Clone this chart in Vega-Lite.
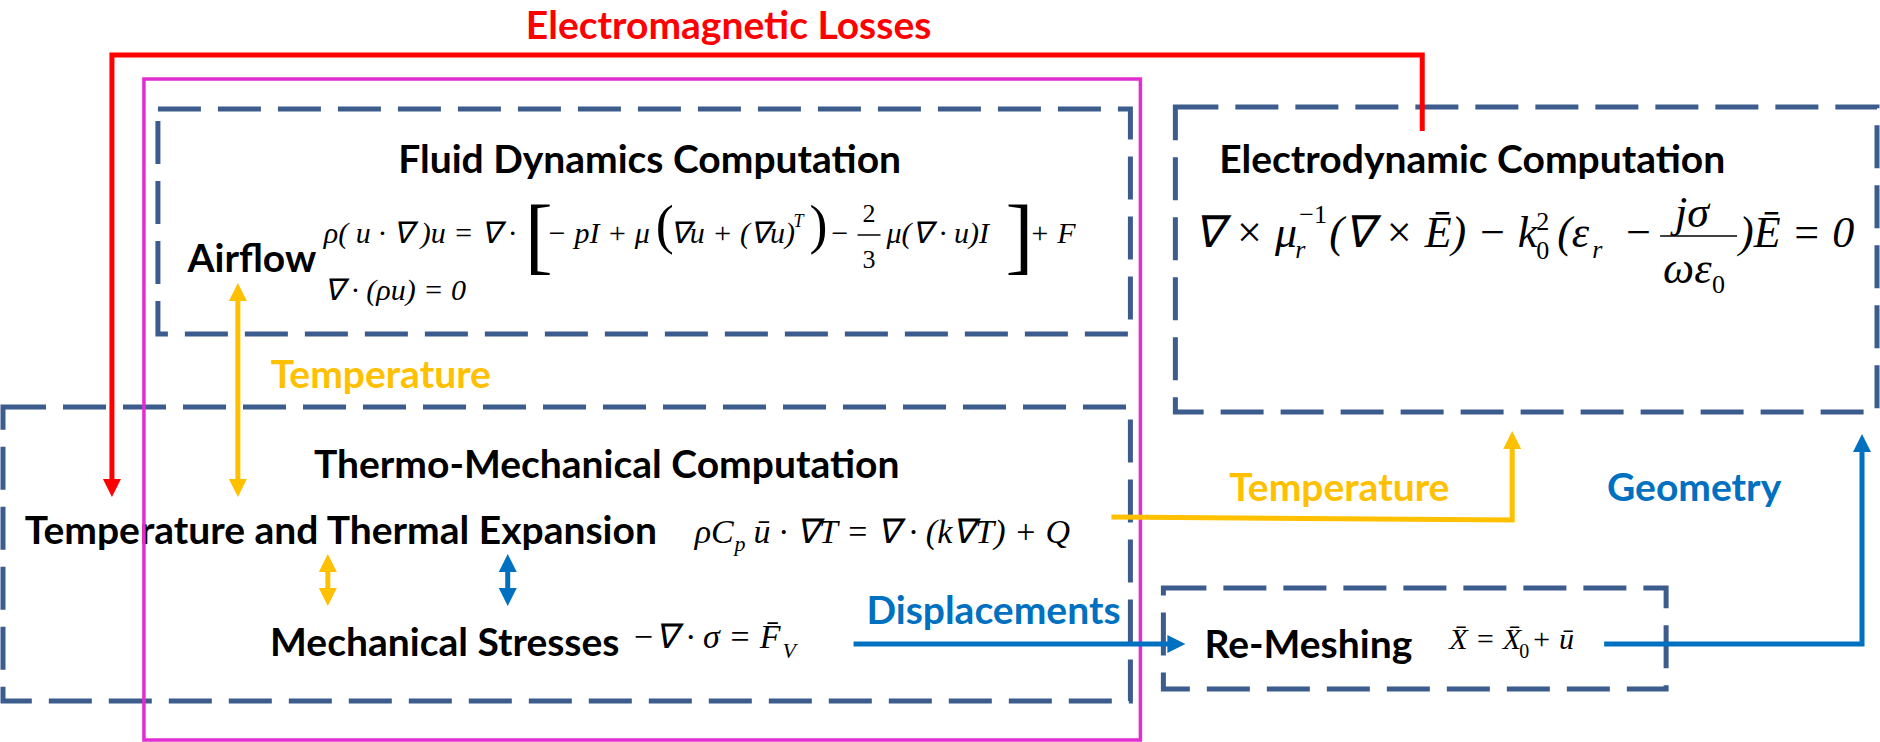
{
  "$schema": "https://vega.github.io/schema/vega-lite/v6.json",
  "width": 1880,
  "height": 742,
  "padding": 0,
  "autosize": {"type": "fit", "contains": "padding"},
  "background": "white",
  "config": {"view": {"stroke": null}},
  "datasets": {
    "boxes": [
      {"name": "Fluid", "x1": 158, "x2": 1131, "y1": 109, "y2": 334},
      {"name": "Thermo", "x1": 3, "x2": 1131, "y1": 407, "y2": 701},
      {"name": "Electro", "x1": 1176, "x2": 1878, "y1": 107, "y2": 412},
      {"name": "Remesh", "x1": 1164, "x2": 1667, "y1": 588, "y2": 689}
    ],
    "frame": [
      {"name": "Coupled", "x1": 144, "x2": 1141, "y1": 79, "y2": 740}
    ],
    "paths": [
      {"seg": "em", "ord": 1, "x": 112, "y": 488, "grp": "red"},
      {"seg": "em", "ord": 2, "x": 112, "y": 55, "grp": "red"},
      {"seg": "em", "ord": 3, "x": 1423, "y": 55, "grp": "red"},
      {"seg": "em", "ord": 4, "x": 1423, "y": 131, "grp": "red"},
      {"seg": "ty", "ord": 1, "x": 238, "y": 292, "grp": "yellow"},
      {"seg": "ty", "ord": 2, "x": 238, "y": 488, "grp": "yellow"},
      {"seg": "sy", "ord": 1, "x": 328, "y": 563, "grp": "yellow"},
      {"seg": "sy", "ord": 2, "x": 328, "y": 597, "grp": "yellow"},
      {"seg": "sb", "ord": 1, "x": 508, "y": 563, "grp": "blue"},
      {"seg": "sb", "ord": 2, "x": 508, "y": 597, "grp": "blue"},
      {"seg": "tt", "ord": 1, "x": 1112, "y": 517, "grp": "yellow"},
      {"seg": "tt", "ord": 2, "x": 1513, "y": 520, "grp": "yellow"},
      {"seg": "tt", "ord": 3, "x": 1513, "y": 442, "grp": "yellow"},
      {"seg": "dp", "ord": 1, "x": 854, "y": 644, "grp": "blue"},
      {"seg": "dp", "ord": 2, "x": 1170, "y": 644, "grp": "blue"},
      {"seg": "ge", "ord": 1, "x": 1605, "y": 644, "grp": "blue"},
      {"seg": "ge", "ord": 2, "x": 1863, "y": 644, "grp": "blue"},
      {"seg": "ge", "ord": 3, "x": 1863, "y": 445, "grp": "blue"}
    ],
    "heads": [
      {"x": 112, "y": 488, "dir": "down", "grp": "red"},
      {"x": 238, "y": 292, "dir": "up", "grp": "yellow"},
      {"x": 238, "y": 488, "dir": "down", "grp": "yellow"},
      {"x": 328, "y": 563, "dir": "up", "grp": "yellow"},
      {"x": 328, "y": 597, "dir": "down", "grp": "yellow"},
      {"x": 508, "y": 563, "dir": "up", "grp": "blue"},
      {"x": 508, "y": 597, "dir": "down", "grp": "blue"},
      {"x": 1513, "y": 440, "dir": "up", "grp": "yellow"},
      {"x": 1863, "y": 443, "dir": "up", "grp": "blue"},
      {"x": 1177, "y": 644, "dir": "right", "grp": "blue"}
    ],
    "bars": [
      {"x1": 858, "x2": 881, "y": 235},
      {"x1": 1661, "x2": 1738, "y": 236}
    ],
    "labels": [
      {"x": 729, "y": 39, "t": "Electromagnetic Losses", "grp": "red"},
      {"x": 650, "y": 173, "t": "Fluid Dynamics Computation", "grp": "black"},
      {"x": 252, "y": 272, "t": "Airflow", "grp": "black"},
      {"x": 1473, "y": 173, "t": "Electrodynamic Computation", "grp": "black"},
      {"x": 381, "y": 388, "t": "Temperature", "grp": "yellow"},
      {"x": 607, "y": 478, "t": "Thermo-Mechanical Computation", "grp": "black"},
      {"x": 341, "y": 544, "t": "Temperature and Thermal Expansion", "grp": "black"},
      {"x": 445, "y": 656, "t": "Mechanical Stresses", "grp": "black"},
      {"x": 994, "y": 624, "t": "Displacements", "grp": "blue"},
      {"x": 1340, "y": 501, "t": "Temperature", "grp": "yellow"},
      {"x": 1695, "y": 501, "t": "Geometry", "grp": "blue"},
      {"x": 1309, "y": 658, "t": "Re-Meshing", "grp": "black"}
    ],
    "math": [
      {"x": 324, "y": 243, "t": "ρ( u · ∇ )u = ∇ ·", "role": "f"},
      {"x": 525, "y": 264, "t": "[", "role": "fb"},
      {"x": 547, "y": 243, "t": "− pI + μ", "role": "f"},
      {"x": 656, "y": 243, "t": "(", "role": "fp"},
      {"x": 670, "y": 243, "t": "∇u + (∇u)", "role": "f"},
      {"x": 794, "y": 227, "t": "T", "role": "fs"},
      {"x": 810, "y": 243, "t": ")", "role": "fp"},
      {"x": 830, "y": 243, "t": "−", "role": "f"},
      {"x": 863, "y": 222, "t": "2", "role": "fn"},
      {"x": 863, "y": 268, "t": "3", "role": "fn"},
      {"x": 887, "y": 243, "t": "μ(∇ · u)I", "role": "f"},
      {"x": 1006, "y": 264, "t": "]", "role": "fb"},
      {"x": 1030, "y": 243, "t": "+ F", "role": "f"},
      {"x": 324, "y": 300, "t": "∇ · (ρu) = 0", "role": "f"},
      {"x": 1195, "y": 247, "t": "∇ × μ", "role": "e"},
      {"x": 1296, "y": 258, "t": "r", "role": "es"},
      {"x": 1300, "y": 223, "t": "−1", "role": "en"},
      {"x": 1330, "y": 247, "t": "(∇ × Ē) − k", "role": "e"},
      {"x": 1537, "y": 259, "t": "0", "role": "en"},
      {"x": 1537, "y": 230, "t": "2", "role": "en"},
      {"x": 1558, "y": 247, "t": "(ε", "role": "e"},
      {"x": 1593, "y": 258, "t": "r", "role": "es"},
      {"x": 1624, "y": 247, "t": "−", "role": "e"},
      {"x": 1676, "y": 227, "t": "jσ", "role": "e"},
      {"x": 1664, "y": 283, "t": "ωε", "role": "e"},
      {"x": 1713, "y": 293, "t": "0", "role": "en"},
      {"x": 1740, "y": 247, "t": ")Ē = 0", "role": "e"},
      {"x": 695, "y": 543, "t": "ρC", "role": "t"},
      {"x": 735, "y": 551, "t": "p", "role": "ts"},
      {"x": 754, "y": 543, "t": "ū · ∇T = ∇ · (k∇T) + Q", "role": "t"},
      {"x": 632, "y": 648, "t": "−∇ · σ = F̄", "role": "t"},
      {"x": 783, "y": 658, "t": "V", "role": "ts"},
      {"x": 1450, "y": 649, "t": "X̄ = X̄", "role": "r"},
      {"x": 1520, "y": 658, "t": "0", "role": "rn"},
      {"x": 1532, "y": 649, "t": "+ ū", "role": "r"}
    ]
  },
  "layer": [
    {
      "data": {"name": "boxes"},
      "mark": {"type": "rect", "filled": false, "stroke": "#3C5C8E", "strokeWidth": 5, "strokeDash": [43, 17]},
      "encoding": {
        "x": {"field": "x1", "type": "quantitative", "scale": {"domain": [0, 1880], "nice": false, "zero": false}, "axis": null},
        "x2": {"field": "x2"},
        "y": {"field": "y1", "type": "quantitative", "scale": {"domain": [0, 742], "nice": false, "zero": false, "reverse": true}, "axis": null},
        "y2": {"field": "y2"}
      }
    },
    {
      "data": {"name": "labels"},
      "mark": {"type": "text", "font": "Lato", "fontWeight": "bold", "fontSize": 39, "align": "center", "baseline": "alphabetic"},
      "encoding": {
        "x": {"field": "x", "type": "quantitative"},
        "y": {"field": "y", "type": "quantitative"},
        "text": {"field": "t"},
        "color": {"field": "grp", "type": "nominal", "scale": {"domain": ["red", "yellow", "blue", "black"], "range": ["#FF0000", "#FFC000", "#0070C0", "#000000"]}, "legend": null}
      }
    },
    {
      "data": {"name": "math"},
      "transform": [{"filter": {"field": "role", "oneOf": ["f", "fs", "e", "es", "t", "ts", "r"]}}],
      "mark": {"type": "text", "font": "Liberation Serif", "fontStyle": "italic", "align": "left", "baseline": "alphabetic", "color": "#000000"},
      "encoding": {
        "x": {"field": "x", "type": "quantitative"},
        "y": {"field": "y", "type": "quantitative"},
        "text": {"field": "t"},
        "size": {"field": "role", "type": "nominal", "scale": {"type": "ordinal", "domain": ["f", "fs", "fb", "fp", "fn", "e", "es", "en", "t", "ts", "r", "rn"], "range": [30, 18, 84, 54, 26, 44, 26, 26, 34, 22, 30, 20]}, "legend": null}
      }
    },
    {
      "data": {"name": "math"},
      "transform": [{"filter": {"field": "role", "oneOf": ["fb", "fp", "fn", "en", "rn"]}}],
      "mark": {"type": "text", "font": "Liberation Serif", "align": "left", "baseline": "alphabetic", "color": "#000000"},
      "encoding": {
        "x": {"field": "x", "type": "quantitative"},
        "y": {"field": "y", "type": "quantitative"},
        "text": {"field": "t"},
        "size": {"field": "role", "type": "nominal", "scale": {"type": "ordinal", "domain": ["f", "fs", "fb", "fp", "fn", "e", "es", "en", "t", "ts", "r", "rn"], "range": [30, 18, 84, 54, 26, 44, 26, 26, 34, 22, 30, 20]}, "legend": null}
      }
    },
    {
      "data": {"name": "bars"},
      "mark": {"type": "rule", "color": "#000000", "strokeWidth": 1.5},
      "encoding": {
        "x": {"field": "x1", "type": "quantitative"},
        "x2": {"field": "x2"},
        "y": {"field": "y", "type": "quantitative"}
      }
    },
    {
      "data": {"name": "frame"},
      "mark": {"type": "rect", "filled": false, "stroke": "#E22DD2", "strokeWidth": 3.5},
      "encoding": {
        "x": {"field": "x1", "type": "quantitative"},
        "x2": {"field": "x2"},
        "y": {"field": "y1", "type": "quantitative"},
        "y2": {"field": "y2"}
      }
    },
    {
      "data": {"name": "paths"},
      "mark": {"type": "line", "strokeWidth": 5, "strokeJoin": "miter", "strokeCap": "butt"},
      "encoding": {
        "x": {"field": "x", "type": "quantitative"},
        "y": {"field": "y", "type": "quantitative"},
        "detail": {"field": "seg"},
        "order": {"field": "ord", "type": "quantitative"},
        "color": {"field": "grp", "type": "nominal", "scale": {"domain": ["red", "yellow", "blue", "black"], "range": ["#FF0000", "#FFC000", "#0070C0", "#000000"]}, "legend": null}
      }
    },
    {
      "data": {"name": "heads"},
      "mark": {"type": "point", "filled": true, "size": 324, "opacity": 1, "strokeWidth": 0},
      "encoding": {
        "x": {"field": "x", "type": "quantitative"},
        "y": {"field": "y", "type": "quantitative"},
        "shape": {"field": "dir", "type": "nominal", "scale": {"domain": ["up", "down", "right"], "range": ["M0,-1L1,1L-1,1Z", "M0,1L1,-1L-1,-1Z", "M1,0L-1,-1L-1,1Z"]}, "legend": null},
        "color": {"field": "grp", "type": "nominal", "scale": {"domain": ["red", "yellow", "blue", "black"], "range": ["#FF0000", "#FFC000", "#0070C0", "#000000"]}, "legend": null}
      }
    }
  ]
}
